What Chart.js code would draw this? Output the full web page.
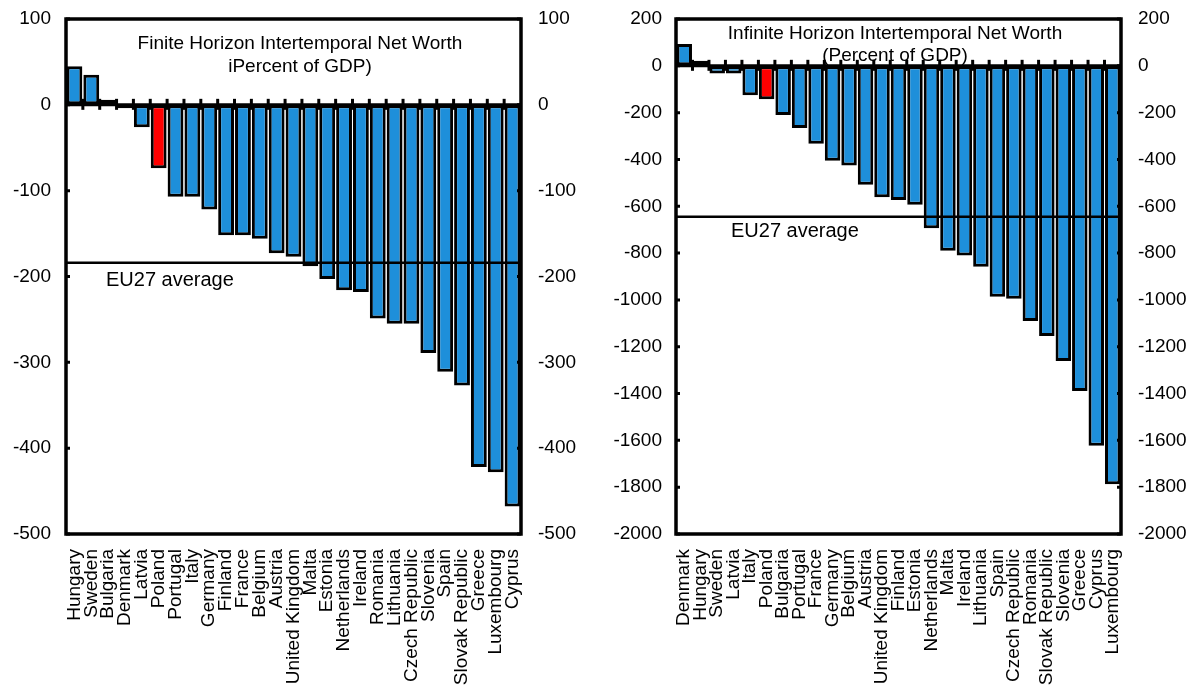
<!DOCTYPE html>
<html>
<head>
<meta charset="utf-8">
<script src="https://cdn.jsdelivr.net/npm/chart.js@4.4.1/dist/chart.umd.min.js"></script>
<style>
  html, body { margin: 0; padding: 0; background: #ffffff; }
  #wrap { position: relative; width: 1196px; height: 685px; overflow: hidden; }
  .panel { position: absolute; top: 0; width: 598px; height: 685px; }
  #p1 { left: 0; }
  #p2 { left: 598px; }
</style>
</head>
<body>
<div id="wrap">
  <div class="panel" id="p1"><canvas id="finite" width="598" height="685"></canvas></div>
  <div class="panel" id="p2"><canvas id="infinite" width="598" height="685"></canvas></div>
</div>
<script>
// Finite horizon intertemporal net worth, percent of GDP
const finiteCountries = ['Hungary', 'Sweden', 'Bulgaria', 'Denmark', 'Latvia', 'Poland', 'Portugal', 'Italy',
  'Germany', 'Finland', 'France', 'Belgium', 'Austria', 'United Kingdom', 'Malta', 'Estonia', 'Netherlands',
  'Ireland', 'Romania', 'Lithuania', 'Czech Republic', 'Slovenia', 'Spain', 'Slovak Republic', 'Greece',
  'Luxembourg', 'Cyprus'];
const finiteValues = [45, 35, 6, -4, -26, -74, -107, -107, -122, -152, -152, -156, -173, -177, -188, -203,
  -216, -218, -249, -255, -255, -289, -311, -327, -422, -428, -468];
const finiteEU27 = -184;
const finiteTicks = { min: -500, max: 100, step: 100 };

// Infinite horizon intertemporal net worth, percent of GDP
const infiniteCountries = ['Denmark', 'Hungary', 'Sweden', 'Latvia', 'Italy', 'Poland', 'Bulgaria', 'Portugal',
  'France', 'Germany', 'Belgium', 'Austria', 'United Kingdom', 'Finland', 'Estonia', 'Netherlands', 'Malta',
  'Ireland', 'Lithuania', 'Spain', 'Czech Republic', 'Romania', 'Slovak Republic', 'Slovenia', 'Greece',
  'Cyprus', 'Luxembourg'];
const infiniteValues = [93, 22, -33, -33, -126, -143, -210, -266, -333, -405, -426, -508, -561, -573, -594,
  -694, -790, -810, -858, -986, -995, -1090, -1154, -1261, -1389, -1623, -1788];
const infiniteEU27 = -645;
const infiniteTicks = { min: -2000, max: 200, step: 200 };

const highlightCountry = 'Poland';
const averageLabel = 'EU27 average';

const BLUE = '#1E8FDA';
const RED = '#FF0000';
const FONT = '"Liberation Sans", Arial, Helvetica, sans-serif';

// Frame, zero line with category ticks, inner y ticks, average line and in-plot texts
const decorPlugin = {
  id: 'decor',
  afterDatasetsDraw(chart, args, opts) {
    const { ctx, chartArea: a, scales } = chart;
    const x = scales.x, y = scales.y;
    const y0 = y.getPixelForValue(0);
    ctx.save();
    ctx.strokeStyle = '#000';
    ctx.lineCap = 'butt';

    // average line across the plot
    const ya = y.getPixelForValue(opts.average);
    ctx.lineWidth = 2.5;
    ctx.beginPath();
    ctx.moveTo(a.left, ya);
    ctx.lineTo(a.right, ya);
    ctx.stroke();

    // zero line
    ctx.lineWidth = 3;
    ctx.beginPath();
    ctx.moveTo(a.left, y0);
    ctx.lineTo(a.right, y0);
    ctx.stroke();

    // category boundary ticks on the zero line
    const n = chart.data.labels.length;
    ctx.lineWidth = 3;
    for (let i = 1; i < n; i++) {
      const bx = (x.getPixelForValue(i - 1) + x.getPixelForValue(i)) / 2;
      ctx.beginPath();
      ctx.moveTo(bx, y0 - 6);
      ctx.lineTo(bx, y0 + 5);
      ctx.stroke();
    }

    // inner ticks on both value axes
    ctx.lineWidth = 3;
    y.ticks.forEach(t => {
      const py = y.getPixelForValue(t.value);
      ctx.beginPath();
      ctx.moveTo(a.left, py);
      ctx.lineTo(a.left + 4, py);
      ctx.moveTo(a.right - 4, py);
      ctx.lineTo(a.right, py);
      ctx.stroke();
    });

    // frame
    ctx.lineWidth = 3.5;
    ctx.strokeRect(a.left, a.top, a.right - a.left, a.bottom - a.top);

    // title inside the plot
    ctx.fillStyle = '#000';
    ctx.font = '19px ' + FONT;
    ctx.textAlign = 'center';
    ctx.textBaseline = 'alphabetic';
    opts.title.forEach((line, i) => {
      ctx.fillText(line, opts.titleX, opts.titleY[i]);
    });

    // average label
    ctx.font = '20px ' + FONT;
    ctx.textAlign = 'left';
    ctx.fillText(averageLabel, opts.avgLabelX, ya + opts.avgLabelDy);
    ctx.restore();
  }
};

// invisible tick marks that only set the gap between value labels and the frame
function gapGrid(len) {
  return {
    display: true,
    drawOnChartArea: false,
    drawTicks: true,
    tickLength: len,
    color: 'rgba(0,0,0,0)'
  };
}

function makeChart(canvasId, labels, values, ticks, layout, decor) {
  const colors = labels.map(c => c === highlightCountry ? RED : BLUE);
  const tickFont = { family: FONT, size: 19 };
  return new Chart(document.getElementById(canvasId), {
    type: 'bar',
    data: {
      labels: labels,
      datasets: [{
        data: values,
        backgroundColor: colors,
        borderColor: '#000',
        borderWidth: 3,
        borderSkipped: false,
        barPercentage: 0.94,
        categoryPercentage: 1.0,
        yAxisID: 'y'
      }]
    },
    options: {
      responsive: false,
      animation: false,
      devicePixelRatio: 1,
      layout: { padding: { top: layout.top, bottom: 0, left: 0, right: 0 } },
      plugins: {
        legend: { display: false },
        tooltip: { enabled: false },
        title: { display: false },
        decor: decor
      },
      scales: {
        x: {
          position: 'bottom',
          grid: { display: false },
          border: { display: false },
          ticks: {
            autoSkip: false,
            maxRotation: 90,
            minRotation: 90,
            padding: 7,
            color: '#000',
            font: { family: FONT, size: 19 }
          },
          afterFit(scale) { scale.height = layout.xHeight; }
        },
        y: {
          position: 'left',
          min: ticks.min,
          max: ticks.max,
          grid: gapGrid(layout.leftGap),
          border: { display: false },
          ticks: {
            stepSize: ticks.step,
            padding: 0,
            color: '#000',
            font: tickFont,
            callback: v => String(v)
          },
          afterFit(scale) { scale.width = layout.leftW; }
        },
        y2: {
          position: 'right',
          min: ticks.min,
          max: ticks.max,
          grid: gapGrid(layout.rightGap),
          border: { display: false },
          ticks: {
            stepSize: ticks.step,
            padding: 0,
            color: '#000',
            font: tickFont,
            callback: v => String(v)
          },
          afterFit(scale) { scale.width = layout.rightW; }
        }
      }
    },
    plugins: [decorPlugin]
  });
}

makeChart('finite', finiteCountries, finiteValues, finiteTicks,
  { top: 19, xHeight: 151, leftW: 66, rightW: 77, leftGap: 15, rightGap: 17 },
  {
    average: finiteEU27,
    title: ['Finite Horizon Intertemporal Net Worth', 'iPercent of GDP)'],
    titleX: 300, titleY: [49, 72],
    avgLabelX: 106, avgLabelDy: 23
  });

makeChart('infinite', infiniteCountries, infiniteValues, infiniteTicks,
  { top: 19, xHeight: 151, leftW: 78, rightW: 75, leftGap: 14, rightGap: 17 },
  {
    average: infiniteEU27,
    title: ['Infinite Horizon Intertemporal Net Worth', '(Percent of GDP)'],
    titleX: 297, titleY: [39, 61],
    avgLabelX: 133, avgLabelDy: 20
  });
</script>
</body>
</html>
